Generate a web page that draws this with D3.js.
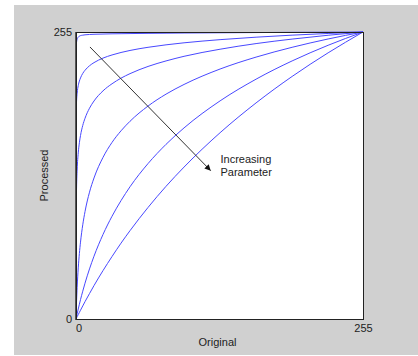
<!DOCTYPE html>
<html><head><meta charset="utf-8">
<script src="https://cdn.jsdelivr.net/npm/d3@7"></script>
<style>body{margin:0;background:#fff}svg{display:block}</style>
</head><body>
<script>
// sample positions along "Original" (0..255)
const xs = [0, 0.1, 0.25, 0.5, 1, 2, 3, 4, 6, 8, 12, 16, 24, 32, 40, 48, 64, 80, 96, 128, 160, 192, 224, 255];
// "Processed" values for each curve (increasing parameter from top to bottom)
const curve1 = [0, 238, 243, 246, 248.5, 250.5, 251.3, 251.8, 252.2, 252.5, 252.8, 253, 253.2, 253.4, 253.5, 253.6, 253.8, 253.95, 254.1, 254.3, 254.5, 254.7, 254.85, 255];
const curve2 = [0, 178, 187, 193.8, 200.6, 207.4, 211.4, 214.2, 218.2, 221, 225, 227.8, 231.8, 234.6, 236.8, 238.6, 241.4, 243.6, 245.4, 248.2, 250.4, 252.2, 253.7, 255];
const curve3 = [0, 81.8, 101.8, 117, 132.3, 147.6, 156.6, 163, 172, 178.3, 187.3, 193.7, 202.7, 209, 214, 218, 224.4, 229.3, 233.4, 239.7, 244.7, 248.7, 252.1, 255];
const curve4 = [0, 3.6, 8.6, 15.9, 27.8, 45.4, 58.2, 68.3, 83.7, 95.4, 112.7, 125.3, 143.6, 156.9, 167.2, 175.7, 189.2, 199.8, 208.4, 222.1, 232.7, 241.4, 248.8, 255];
const curve5 = [0, 0.47, 1.17, 2.33, 4.6, 8.9, 13.1, 17.2, 24.7, 31.8, 44.5, 55.8, 75.1, 91.3, 105.2, 117.5, 138.1, 155.2, 169.8, 193.8, 213.1, 229.3, 243.2, 255];
const curve6 = [0, 0.2, 0.5, 1.0, 2.0, 3.95, 5.9, 7.8, 11.6, 15.4, 22.6, 29.7, 43.0, 55.5, 67.4, 78.5, 99.1, 117.9, 135.0, 165.5, 192.0, 215.5, 236.5, 255];
const curves = [curve1, curve2, curve3, curve4, curve5, curve6];
const xTicks = [0, 255];
const yTicks = [0, 255];
const xLabel = "Original";
const yLabel = "Processed";
const annotation = ["Increasing", "Parameter"];
const arrowFrom = [12.4, 241.7];
const arrowTo = [119.7, 131.8];
const annotationAt = [128.4, 138.6];

const W = 418, H = 356;
const svg = d3.select("body").append("svg").attr("width", W).attr("height", H);
svg.append("rect").attr("x", 14).attr("y", 5).attr("width", W - 14).attr("height", 350).attr("fill", "#d0d0d0");

const L = 76, R = 363, T = 32, B = 319;
const x = d3.scaleLinear().domain([0, 255]).range([L, R]);
const y = d3.scaleLinear().domain([0, 255]).range([B, T]);

svg.append("rect").attr("x", L).attr("y", T).attr("width", R - L).attr("height", B - T).attr("fill", "#fff");

const defs = svg.append("defs");
defs.append("clipPath").attr("id", "clip").append("rect")
  .attr("x", L).attr("y", T - 1).attr("width", R - L + 1).attr("height", B - T + 2);

const line = d3.line().x((d, i) => x(xs[i])).y(d => y(d)).curve(d3.curveMonotoneX);
svg.append("g").attr("clip-path", "url(#clip)")
  .selectAll("path").data(curves).join("path")
  .attr("d", line).attr("fill", "none").attr("stroke", "#4848ff").attr("stroke-width", 1);

// frame
svg.append("rect").attr("x", L + 0.5).attr("y", T + 0.5).attr("width", R - L).attr("height", B - T)
  .attr("fill", "none").attr("stroke", "#222").attr("stroke-width", 1);
svg.append("line").attr("x1", L - 0.5).attr("x2", L - 0.5).attr("y1", T).attr("y2", B + 1).attr("stroke", "#555");

const font = "Arial, 'Liberation Sans', sans-serif";
const xAxis = svg.append("g").attr("transform", `translate(0,${B + 1})`)
  .call(d3.axisBottom(x).tickValues(xTicks).tickSize(0).tickPadding(4).tickFormat(d3.format("d")));
xAxis.select(".domain").remove();
xAxis.selectAll("text").attr("font-family", font).attr("font-size", 11).attr("fill", "#222")
  .attr("dx", (d, i) => i === 0 ? 2.5 : 0);
const yAxis = svg.append("g").attr("transform", `translate(${L},0)`)
  .call(d3.axisLeft(y).tickValues(yTicks).tickSize(0).tickPadding(4).tickFormat(d3.format("d")));
yAxis.select(".domain").remove();
yAxis.selectAll("text").attr("font-family", font).attr("font-size", 11).attr("fill", "#222");

svg.append("text").attr("x", (L + R) / 2 - 2).attr("y", 346).attr("text-anchor", "middle")
  .attr("font-family", font).attr("font-size", 11).attr("fill", "#222").text(xLabel);
svg.append("text").attr("transform", `translate(48,${(T + B) / 2}) rotate(-90)`).attr("text-anchor", "middle")
  .attr("font-family", font).attr("font-size", 11).attr("fill", "#222").text(yLabel);

// annotation arrow
defs.append("marker").attr("id", "ah").attr("viewBox", "0 0 10 10").attr("refX", 10).attr("refY", 5)
  .attr("markerWidth", 8).attr("markerHeight", 6).attr("markerUnits", "userSpaceOnUse").attr("orient", "auto")
  .append("path").attr("d", "M0,0 L10,5 L0,10 Z").attr("fill", "#111");
svg.append("line").attr("x1", x(arrowFrom[0])).attr("y1", y(arrowFrom[1]))
  .attr("x2", x(arrowTo[0])).attr("y2", y(arrowTo[1]))
  .attr("stroke", "#333").attr("stroke-width", 1).attr("marker-end", "url(#ah)");
svg.append("g").selectAll("text").data(annotation).join("text")
  .attr("x", x(annotationAt[0])).attr("y", (d, i) => y(annotationAt[1]) + i * 13)
  .attr("font-family", font).attr("font-size", 11).attr("fill", "#222").text(d => d);
</script>
</body></html>
